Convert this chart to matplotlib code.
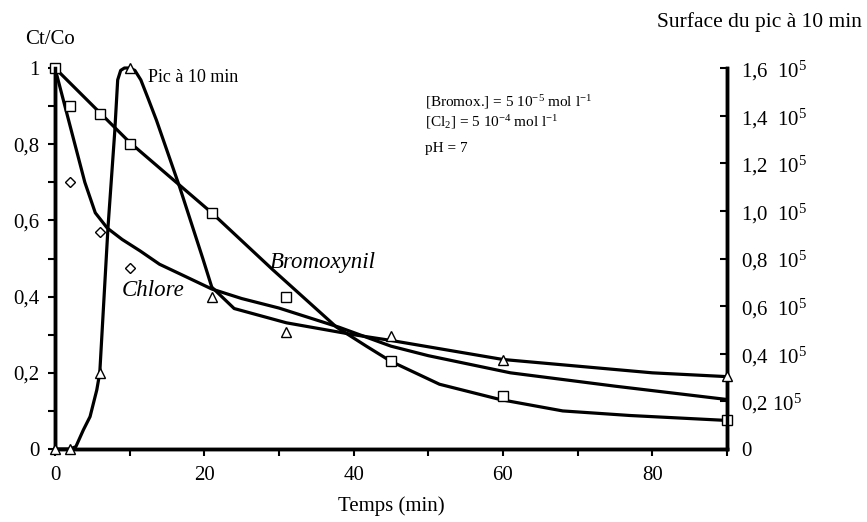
import numpy as np
from matplotlib import pyplot as plt
from matplotlib.ticker import MultipleLocator, FixedLocator

plt.rcParams['font.family'] = ['Liberation Serif', 'DejaVu Serif']
plt.rcParams['mathtext.fontset'] = 'custom'
plt.rcParams['mathtext.rm'] = 'Liberation Serif'
plt.rcParams['mathtext.it'] = 'Liberation Serif:italic'

# measured points
t_brom = [0, 2, 6, 10, 21, 31, 45, 60, 90]
y_brom = [1.0, 0.90, 0.88, 0.80, 0.62, 0.40, 0.23, 0.14, 0.075]

t_chl = [2, 6, 10]
y_chl = [0.70, 0.57, 0.475]

t_pic = [0, 2, 6, 10, 21, 31, 45, 60, 90]
y_pic = [0, 0, 0.32e5, 1.6e5, 0.64e5, 0.49e5, 0.475e5, 0.375e5, 0.305e5]

# fitted curves
tc_brom = [0, 10, 21, 29.2, 37.7, 41.7, 45, 51.5, 59.6, 68, 77, 90]
yc_brom = [1.0, 0.805, 0.62, 0.47, 0.32, 0.27, 0.23, 0.17, 0.13, 0.10, 0.088, 0.075]

tc_chl = [0, 2, 4, 5.4, 7, 9, 11.4, 14, 16.7, 21, 25, 30, 38, 45, 50, 61, 75, 90]
yc_chl = [1.0, 0.85, 0.70, 0.62, 0.58, 0.55, 0.52, 0.485, 0.46, 0.42, 0.395,
          0.37, 0.32, 0.27, 0.245, 0.20, 0.165, 0.13]

tc_pic = [0, 2, 2.8, 3.8, 4.7, 5.6, 6, 7.1, 8.0, 8.4, 8.8, 9.3, 10, 10.7, 11.5,
          12.5, 13.6, 16.7, 19.8, 21, 24, 31, 40, 45, 60, 80, 90]
yc_pic = [0, 0, 0.01e5, 0.08e5, 0.136e5, 0.248e5, 0.32e5, 0.93e5, 1.33e5, 1.55e5,
          1.59e5, 1.6e5, 1.6e5, 1.59e5, 1.55e5, 1.47e5, 1.38e5, 1.10e5, 0.80e5,
          0.68e5, 0.59e5, 0.53e5, 0.48e5, 0.456e5, 0.376e5, 0.32e5, 0.304e5]

right_ticks = [0, 0.2e5, 0.4e5, 0.6e5, 0.8e5, 1.0e5, 1.2e5, 1.4e5, 1.6e5]
right_labels = ['0', '0,2 10$^5$', '0,4  10$^5$', '0,6  10$^5$', '0,8  10$^5$',
                '1,0  10$^5$', '1,2  10$^5$', '1,4  10$^5$', '1,6  10$^5$']
left_ticks = [0, 0.2, 0.4, 0.6, 0.8, 1.0]
left_labels = ['0', '0,2', '0,4', '0,6', '0,8', '1']

fig = plt.figure(figsize=(8.67, 5.22), dpi=100)
ax = fig.add_axes([0.0634, 0.1398, 0.8385 - 0.0634, 0.8697 - 0.1398])
ax2 = ax.twinx()

lw = 2.3
mk = dict(mfc='white', mec='black', mew=1.0, ms=7, ls='none', clip_on=False, zorder=5)

ax.plot(tc_brom, yc_brom, color='black', lw=lw, clip_on=False)
ax.plot(tc_chl, yc_chl, color='black', lw=lw, clip_on=False)
ax.plot(t_brom, y_brom, marker='s', **mk)
ax.plot(t_chl, y_chl, marker='D', **dict(mk, ms=5))

ax2.plot(tc_pic, yc_pic, color='black', lw=lw, clip_on=False)
ax2.plot(t_pic, y_pic, marker='^', **mk)

ax.set_xlim(0, 90)
ax.set_ylim(0, 1)
ax2.set_ylim(0, 1.6e5)

for a in (ax, ax2):
    a.spines['top'].set_visible(False)
    for s in ('left', 'bottom', 'right'):
        a.spines[s].set_linewidth(2.5)

ax.xaxis.set_major_locator(FixedLocator([0, 20, 40, 60, 80]))
ax.xaxis.set_minor_locator(MultipleLocator(10))
ax.set_yticks(left_ticks)
ax.set_yticklabels(left_labels)
ax.yaxis.set_minor_locator(MultipleLocator(0.1))
ax.tick_params(axis='both', which='both', direction='out', width=1.5, length=5, labelsize=15)
ax.tick_params(axis='y', pad=6)
ax.tick_params(axis='x', pad=7)

ax2.set_yticks(right_ticks)
ax2.set_yticklabels(right_labels)
ax2.tick_params(axis='y', direction='in', width=1.5, length=5, labelsize=15, pad=10)

ax.set_xlabel('Temps (min)', fontsize=15, labelpad=8)

fig.text(25 / 867, 1 - 40 / 522, 'Ct/Co', fontsize=15, va='center', ha='left')
fig.text(862 / 867, 1 - 22 / 522, 'Surface du pic à 10 min', fontsize=15.5, va='center', ha='right')

ax.text(12.4, 0.974, 'Pic à 10 min', fontsize=13, va='center', ha='left')
ax.text(49.5, 0.91, '[Bromox.] = 5 10$^{-5}$ mol l$^{-1}$', fontsize=11, va='center')
ax.text(49.5, 0.857, '[Cl$_2$] = 5 10$^{-4}$ mol l$^{-1}$', fontsize=11, va='center')
ax.text(49.5, 0.79, 'pH = 7', fontsize=11, va='center')
ax.text(28.8, 0.49, 'Bromoxynil', fontsize=16.5, style='italic', va='center')
ax.text(8.9, 0.417, 'Chlore', fontsize=16.5, style='italic', va='center')

plt.savefig('out.png', dpi=100)
